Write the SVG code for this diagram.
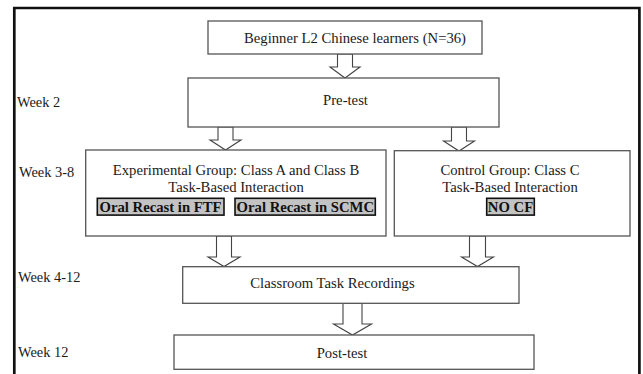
<svg xmlns="http://www.w3.org/2000/svg" width="643" height="374" viewBox="0 0 643 374">
<style>
text{font-family:"Liberation Serif","Times New Roman",serif;font-size:14.7px;fill:#1a1a1a}
.wk{font-size:14.4px}
.c{text-anchor:middle}
.b{font-weight:bold;fill:#111}
.box{fill:#fff;stroke:#555;stroke-width:1.3}
.gray{fill:#c3c3c3;stroke:#111;stroke-width:1.6}
.arr{fill:#fff;stroke:#444;stroke-width:1.1;stroke-linejoin:miter}
</style>
<rect width="643" height="374" fill="#fff"/>
<path d="M14.3,376 V8 H639.4 V376" fill="none" stroke="#111" stroke-width="2.7"/>
<g id="labels">
<text class="wk" x="17" y="107">Week 2</text>
<text class="wk" x="19" y="177">Week 3-8</text>
<text class="wk" x="18" y="282">Week 4-12</text>
<text class="wk" x="18" y="357">Week 12</text>
</g>
<g id="connectors">
<path class="arr" d="M337.5,54 V67 H330 L345,78 L360,67 H352.5 V54 Z"/>
<path class="arr" d="M218,127 V140 H210 L225.5,150 L241,140 H233 V127 Z"/>
<path class="arr" d="M451.5,127 V141 H443.5 L459,151 L474.5,141 H466.5 V127 Z"/>
<path class="arr" d="M216.5,236 V257 H208 L224,266.5 L240,257 H231.5 V236 Z"/>
<path class="arr" d="M469.5,236 V257 H461.5 L477.5,266.5 L493.5,257 H485.5 V236 Z"/>
<path class="arr" d="M343,303.3 V324 H333.5 L352.5,335 L371.5,324 H362 V303.3 Z"/>
</g>
<g id="n1">
<rect class="box" x="208" y="21" width="274" height="33"/>
<text class="c" x="355" y="42.5">Beginner L2 Chinese learners (N=36)</text>
</g>
<g id="n2">
<rect class="box" x="188" y="78" width="311" height="49"/>
<text class="c" x="345.5" y="104.5">Pre-test</text>
</g>
<g id="n3">
<rect class="box" x="85.7" y="150" width="300.3" height="86"/>
<text class="c" x="236" y="175">Experimental Group: Class A and Class B</text>
<text class="c" x="236" y="191.7">Task-Based Interaction</text>
<rect class="gray" x="97.3" y="198.3" width="126.7" height="16.8"/>
<text class="b" x="99.5" y="211.8">Oral Recast in FTF</text>
<rect class="gray" x="235" y="198.3" width="140.3" height="16.8"/>
<text class="b" x="236.6" y="211.8">Oral Recast in SCMC</text>
</g>
<g id="n4">
<rect class="box" x="394.3" y="150.7" width="235.7" height="85.3"/>
<text class="c" x="510" y="175">Control Group: Class C</text>
<text class="c" x="510" y="191.7">Task-Based Interaction</text>
<rect class="gray" x="486.7" y="198.3" width="47.6" height="16.8"/>
<text class="b c" x="510.5" y="211.8">NO CF</text>
</g>
<g id="n5">
<rect class="box" x="182.7" y="266.7" width="336.3" height="36.6"/>
<text class="c" x="332.5" y="287.5">Classroom Task Recordings</text>
</g>
<g id="n6">
<rect class="box" x="174" y="335" width="360" height="34.3"/>
<text class="c" x="342" y="358">Post-test</text>
</g>
</svg>
